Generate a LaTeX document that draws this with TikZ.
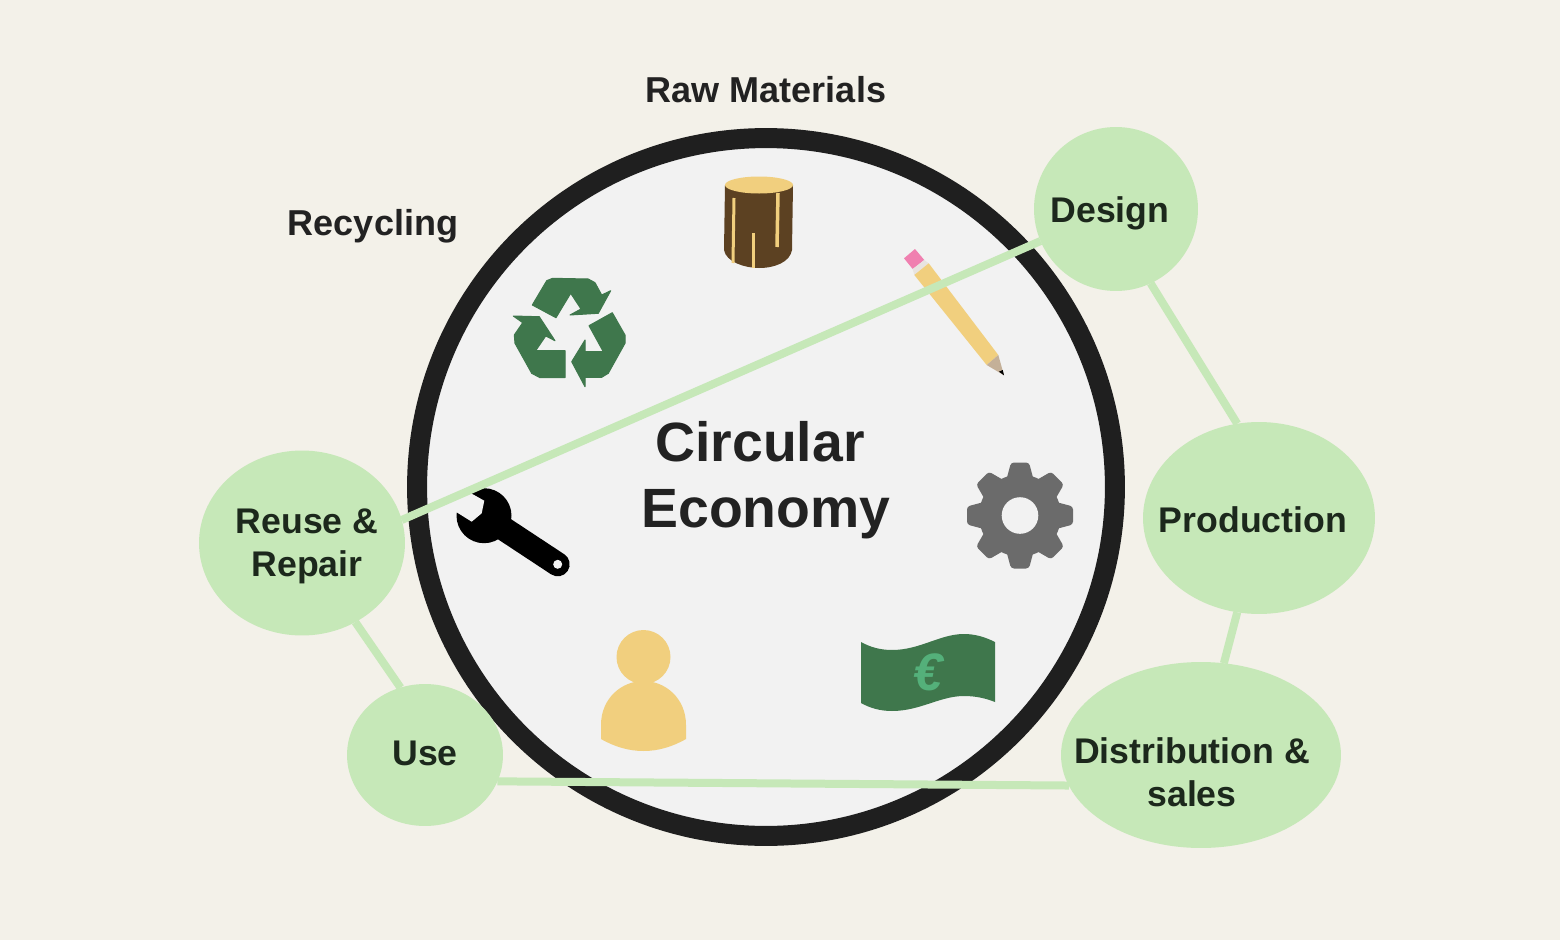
\documentclass[tikz,border=0pt]{standalone}
\usepackage{fontspec}
\setmainfont{Liberation Sans}
\usepackage{tikz}
\usetikzlibrary{shapes.geometric}
\definecolor{pagebg}{RGB}{243,241,233}
\definecolor{ringfill}{RGB}{242,242,242}
\definecolor{ringdraw}{RGB}{31,31,31}
\definecolor{softgreen}{RGB}{198,232,184}
\definecolor{deepgreen}{RGB}{63,119,76}
\definecolor{eurogreen}{RGB}{84,176,122}
\definecolor{inkdark}{RGB}{34,34,34}
\definecolor{inkgreen}{RGB}{28,40,28}
\definecolor{logbrown}{RGB}{92,65,34}
\definecolor{softyellow}{RGB}{241,207,126}
\definecolor{gearfill}{RGB}{107,107,107}
\definecolor{erasepink}{RGB}{240,128,176}
\definecolor{ferrule}{RGB}{232,228,224}
\definecolor{woodtip}{RGB}{196,176,152}
\tikzset{
  ringnode/.style={circle,draw=ringdraw,fill=ringfill,line width=0.4cm,minimum size=13.96cm,inner sep=0pt,outer sep=0pt},
  bubble/.style={ellipse,fill=softgreen,align=center,inner xsep=-1.5cm,inner ysep=0pt,outer sep=0pt,text=inkgreen,font=\fontsize{20.3}{24.5}\selectfont\bfseries},
  outlabel/.style={text=inkdark,font=\fontsize{20.5}{24.5}\selectfont\bfseries},
  mainlabel/.style={align=center,text=inkdark,font=\fontsize{31.5}{37.5}\selectfont\bfseries},
  recycle/.style={fill=deepgreen,draw=deepgreen,line width=0.02cm,line join=round},
  link/.style={draw=softgreen,line width=0.16cm}
}
\begin{document}
\begin{tikzpicture}[x=0.02cm,y=-0.02cm]
  \useasboundingbox (0,0) rectangle (1560,940);
  \fill[pagebg] (0,0) rectangle (1560,940);
  \node[ringnode] (ring) at (766,487) {};
  \node[outlabel] (raw) at (766,90) {Raw Materials};
  \node[outlabel] (recycling) at (373,226) {Recycling};
  \node[mainlabel] (economy) at (766,480) {Circular\hspace*{0.24cm}\\Economy};

  % log
  \fill[logbrown] (725,185) -- (724,250) .. controls (726,262) and (745,268) .. (759,268) .. controls (775,268) and (790,262) .. (792,250) -- (793,185) -- cycle;
  \fill[softyellow] (759,185) ellipse [x radius=34,y radius=8.5];
  \draw[softyellow,line width=0.06cm] (734,198) -- (733,263);
  \draw[softyellow,line width=0.06cm] (753,233) -- (753,268);
  \draw[softyellow,line width=0.07cm] (778,193) -- (777,247);

  % recycle
  \path[recycle] (532.3,305) -- (546.7,280.7) -- (552.7,278.3) -- (588.3,279) -- (595,282.7) -- (601.7,295) -- (610.7,290.7) -- (598.3,313.3) -- (570,315) -- (581,309) -- (570.7,293.3) -- (556,317.7) -- cycle;
  \path[recycle] (612.3,312.7) -- (625,335) -- (625,343.3) -- (608.3,373.3) -- (601.7,377.3) -- (585,377.3) -- (585,386.7) -- (571.7,361.7) -- (585,340) -- (585,351.7) -- (603.3,351.7) -- (589,325.7) -- cycle;
  \path[recycle] (513.3,316) -- (539.3,316.7) -- (555,340.7) -- (545.7,336) -- (535.7,350.7) -- (565,350.7) -- (565,377.7) -- (540,377.7) -- (531.7,373.3) -- (515,343.3) -- (514.3,335) -- (522.7,322.7) -- cycle;

  % pencil
  \fill[erasepink] (904,258.3) -- (915,249) -- (924.3,260) -- (912.7,269) -- cycle;
  \fill[ferrule] (912.7,269) -- (924.3,260) -- (928.7,263.3) -- (914.3,275) -- cycle;
  \fill[softyellow] (914.3,275) -- (928.7,263.3) -- (998.3,355) -- (986.7,365) -- cycle;
  \fill[woodtip] (986.7,365) -- (998.3,355) -- (1004,375.3) -- cycle;
  \fill[black] (999,371.7) -- (1002.7,370) -- (1004,375.3) -- cycle;

  % gear
  \foreach \a in {0,45,...,315} {
    \fill[gearfill,rotate around={\a:(1020,515.5)},rounded corners=0.06cm] (1005,485) -- (1011,462.5) -- (1029,462.5) -- (1035,485) -- cycle;
  }
  \fill[gearfill] (1020,515.5) circle (41);
  \fill[ringfill] (1020,515.5) circle (18.3);

  % wrench
  \fill[black] (484,515.7) circle (27.5);
  \draw[black,line width=0.48cm,line cap=round] (484,515.7) -- (557.7,564.3);
  \fill[ringfill] (452,482.7) -- (484.3,500.7) -- (481.7,513.3) -- (471.7,521.7) -- (445,505) -- cycle;
  \fill[ringfill] (557.7,564.3) circle (4.5);

  % person
  \fill[softyellow] (643.5,657) circle (27);
  \fill[softyellow] (601,739) -- (601,725) .. controls (601,698) and (622,681) .. (643.5,681) .. controls (665,681) and (686,698) .. (686,725) -- (686,739) .. controls (672,747) and (658,751) .. (643.5,751) .. controls (629,751) and (615,747) .. (601,739) -- cycle;

  % banknote
  \fill[deepgreen] (861,642) .. controls (870,647) and (880,650) .. (892,650) .. controls (920,650) and (940,634) .. (964,634) .. controls (975,634) and (985,637) .. (995,642) -- (995,702) .. controls (985,698) and (975,696) .. (964,696) .. controls (940,696) and (920,711) .. (892,711) .. controls (880,711) and (870,708) .. (861,703) -- cycle;
  \node[text=eurogreen,font=\fontsize{30}{36}\selectfont\bfseries\itshape] (euro) at (928,672) {€};

  \node[bubble,minimum width=3.28cm,minimum height=3.28cm] (design) at (1116,209) {\rule{0pt}{19.3pt}Design\hspace*{0.24cm}};
  \node[bubble,minimum width=4.64cm,minimum height=3.84cm] (production) at (1259,518) {\rule{0pt}{17pt}Production\hspace*{0.24cm}};
  \node[bubble,minimum width=5.6cm,minimum height=3.72cm] (distribution) at (1201,755) {\rule{0pt}{34pt}Distribution \&\hspace*{0.36cm}\\sales\hspace*{0.36cm}};
  \node[bubble,minimum width=3.12cm,minimum height=2.84cm] (use) at (425,755) {\rule[-2.3pt]{0pt}{2.3pt}Use};
  \node[bubble,minimum width=4.12cm,minimum height=3.7cm] (reuse) at (302,543) {\rule{0pt}{18.2pt}\hspace*{0.2cm}Reuse \&\\\hspace*{0.2cm}Repair};

  \draw[link] (design.203) -- (reuse.13);
  \draw[link] (design.-65) -- (production.103);
  \draw[link] (production.-103) -- (distribution.76);
  \draw[link] (distribution.193) -- (use.-20);
  \draw[link] (use.110) -- (reuse.-56);
\end{tikzpicture}
\end{document}
